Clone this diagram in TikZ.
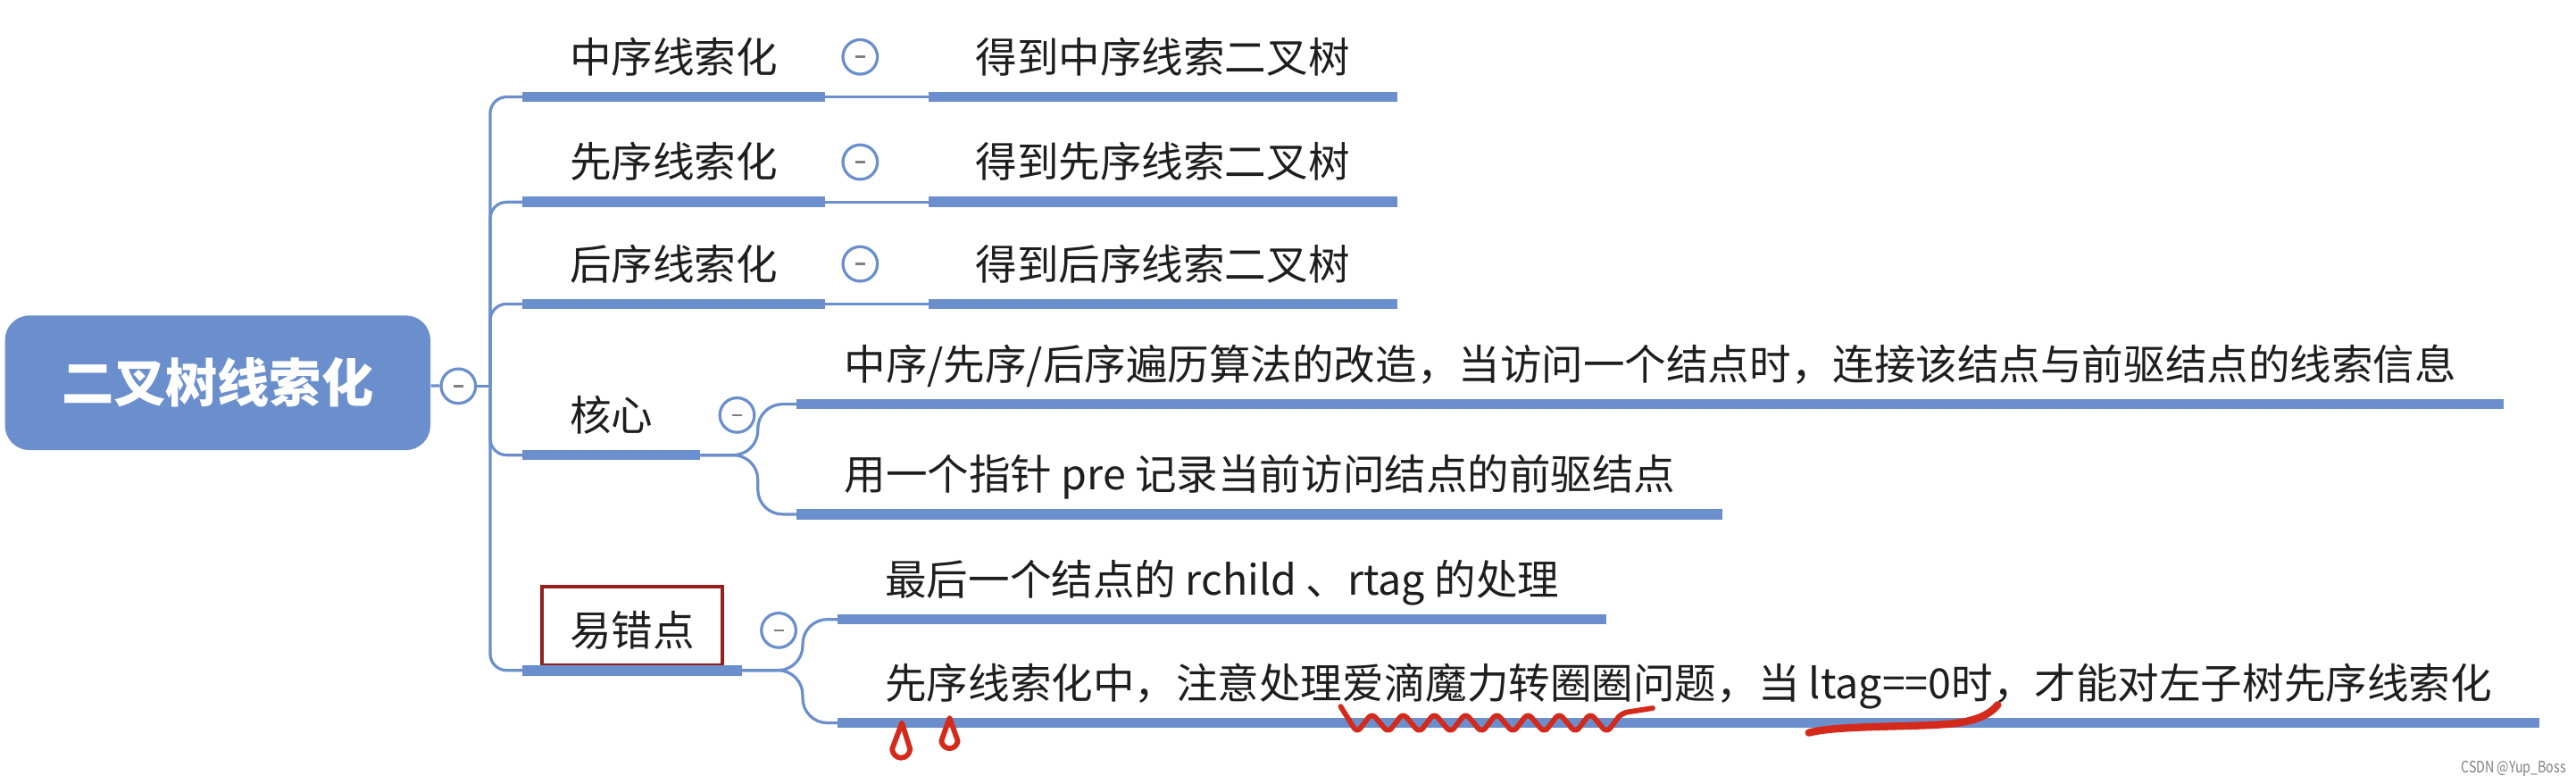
\documentclass[tikz,border=0pt]{standalone}
\usepackage{fontspec}
\setmainfont{Noto Sans CJK SC}
\usetikzlibrary{positioning}
\definecolor{mapblue}{RGB}{106,143,204}
\definecolor{errred}{RGB}{150,32,32}
\definecolor{penred}{RGB}{212,42,28}
\definecolor{inkgray}{RGB}{30,30,30}

\begin{document}
\begin{tikzpicture}[x=0.02cm, y=-0.02cm,
  link/.style={mapblue, line width=1pt},
  bar/.style={mapblue, line width=3.6pt},
  topic/.style={anchor=south west, inner xsep=0.57cm, inner ysep=0.19cm, text height=0.48cm, text depth=0.1cm, text=inkgray, font=\fontsize{14.4}{16}\selectfont},
  fold/.style={circle, draw=mapblue, line width=1pt, fill=white, minimum size=0.42cm, inner sep=0pt,
    path picture={\draw[gray, line width=0.8pt] ([xshift=-0.06cm]path picture bounding box.center) -- ([xshift=0.06cm]path picture bounding box.center);}},
  redpen/.style={penred, line width=1.8pt, line cap=round, line join=round}]
\useasboundingbox (0,0) rectangle (1568,477);

\node[fill=mapblue, rounded corners=0.3cm, minimum width=5.18cm, minimum height=1.64cm, text=white, font=\fontsize{18}{20}\selectfont\bfseries] (root) at (132.5,233) {二叉树线索化};
\node[fold] (rc) at (279,235) {};
\coordinate[right=0.16cm of rc] (trunk);

\node[topic] (zx) at (318,59) {中序线索化};
\node[topic] (xx) at (318,123) {先序线索化};
\node[topic] (hx) at (318,185) {后序线索化};
\node[topic] (core) at (318,277) {核心};
\node[topic] (err) at (318,408) {易错点};

\node[topic] (zxt) at (565,59) {得到中序线索二叉树};
\node[topic] (xxt) at (565,123) {得到先序线索二叉树};
\node[topic] (hxt) at (565,185) {得到后序线索二叉树};
\node[topic] (core1) at (485,246) {中序/先序/后序遍历算法的改造，当访问一个结点时，连接该结点与前驱结点的线索信息};
\node[topic] (core2) at (485,313) {用一个指针 pre 记录当前访问结点的前驱结点};
\node[topic] (err1) at (510,377) {最后一个结点的 rchild 、rtag 的处理};
\node[topic] (err2) at (510,440) {先序线索化中，注意处理爱滴魔力转圈圈问题，当 ltag==0时，才能对左子树先序线索化};

\node[fold, right=0.2cm of zx] (zxf) {};
\node[fold, right=0.2cm of xx] (xxf) {};
\node[fold, right=0.2cm of hx] (hxf) {};
\node[fold, right=0.22cm of core] (coref) {};
\node[fold, right=0.22cm of err] (errf) {};

\draw[errred, line width=1.2pt] ([shift={(12,-3)}]err.south west) rectangle ([shift={(-12,-2)}]err.north east);

\draw[link] (root) -- (rc);
\draw[link] (rc) -- (trunk);
\foreach \n in {zx,xx,hx,core,err}
  \draw[link, rounded corners=0.2cm] (trunk) |- (\n.south west);
\draw[link] (zx.south east) -- (zxt.south west);
\draw[link] (xx.south east) -- (xxt.south west);
\draw[link] (hx.south east) -- (hxt.south west);

\coordinate (corefork) at ([xshift=0.7cm]core.south east);
\coordinate (errfork) at ([xshift=0.74cm]err.south east);
\draw[link, rounded corners=0.3cm] (core.south east) -- (corefork) |- (core1.south west);
\draw[link, rounded corners=0.3cm] (core.south east) -- (corefork) |- (core2.south west);
\draw[link, rounded corners=0.3cm] (err.south east) -- (errfork) |- (err1.south west);
\draw[link, rounded corners=0.3cm] (err.south east) -- (errfork) |- (err2.south west);

\foreach \n in {zx,xx,hx,core,err,zxt,xxt,hxt,core1,core2,err1,err2}
  \draw[bar] (\n.south west) -- (\n.south east);

\draw[redpen] (549,440) -- (543,456) .. controls (544,463) and (553,463) .. (554,456) -- cycle;
\draw[redpen] (578,437) -- (573,451) .. controls (574,457) and (582,457) .. (583,451) -- cycle;
\draw[redpen, rounded corners=2pt] (816,430) \foreach \i in {0,...,8} { -- ({826+19*\i},446) -- ({835+19*\i},434) } -- (1006,431);
\draw[redpen, line width=2.6pt] (1101,446) .. controls (1120,441) and (1170,443) .. (1192,440) .. controls (1205,438) and (1212,434) .. (1216,429);

\node[gray, font=\fontsize{5.5}{6}\selectfont, xscale=0.8] (wm) at (1530,468) {CSDN @Yup\_Boss};
\end{tikzpicture}
\end{document}
